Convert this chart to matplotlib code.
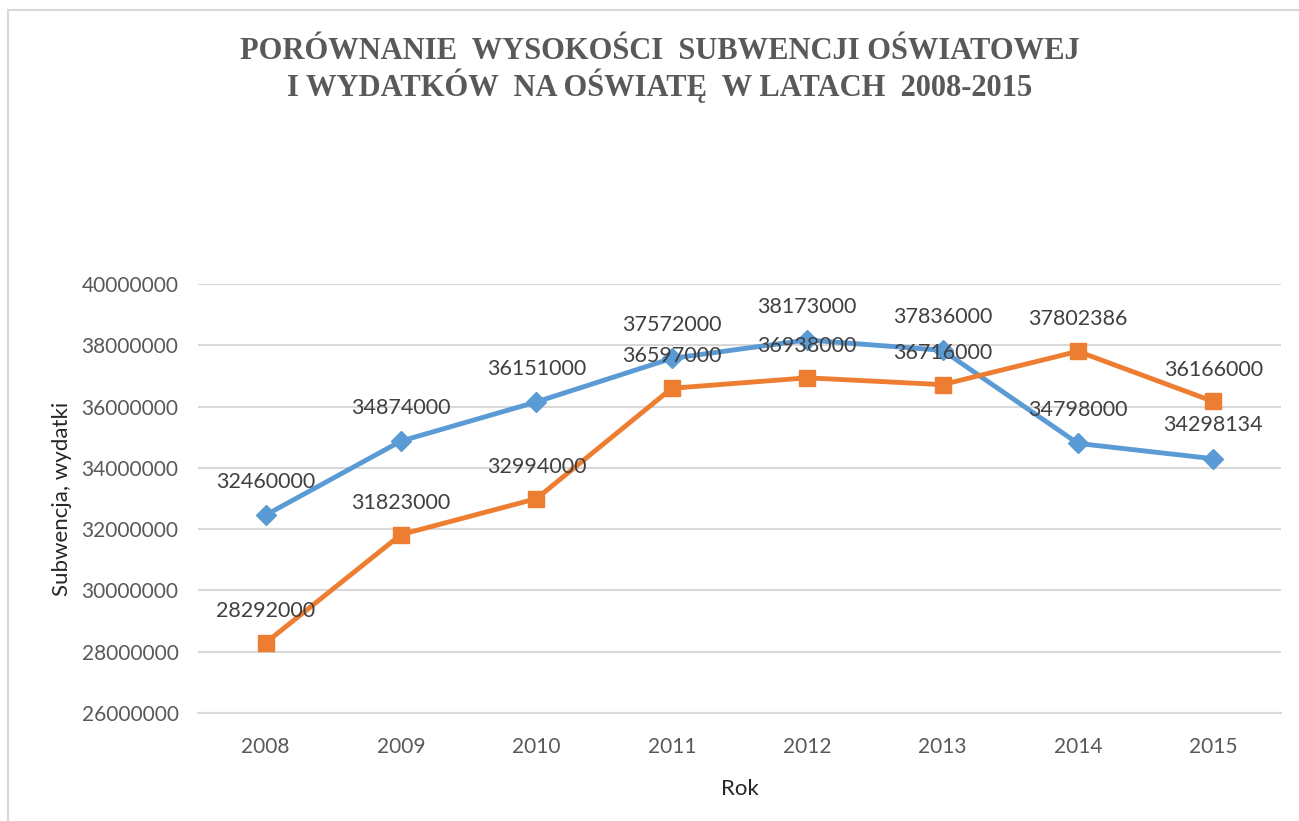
import matplotlib.pyplot as plt
from matplotlib.lines import Line2D

# data
years = ["2008", "2009", "2010", "2011", "2012", "2013", "2014", "2015"]
subwencja = [32460000, 34874000, 36151000, 37572000, 38173000, 37836000, 34798000, 34298134]
wydatki = [28292000, 31823000, 32994000, 36597000, 36938000, 36716000, 37802386, 36166000]
y_ticks = [26000000, 28000000, 30000000, 32000000, 34000000, 36000000, 38000000, 40000000]

blue = "#5B9BD5"
orange = "#ED7D31"
grey_text = "#595959"
grid_col = "#D9D9D9"

plt.rcParams['font.family'] = ['Lato', 'DejaVu Sans']

fig = plt.figure(figsize=(12.99, 8.21), dpi=100)
ax = fig.add_axes([0.1524, 0.1315, 0.8337, 0.5226])

x = list(range(len(years)))
ax.plot(x, subwencja, color=blue, lw=3.5, marker="D", markersize=10, zorder=3)
ax.plot(x, wydatki, color=orange, lw=3.5, marker="s", markersize=12, zorder=3)

# data labels above each point
for xi, v in zip(x, subwencja):
    ax.annotate(str(v), (xi, v), xytext=(0, 24), textcoords="offset points",
                ha="center", va="center", fontsize=15.5, color="#404040", zorder=4)
for xi, v in zip(x, wydatki):
    ax.annotate(str(v), (xi, v), xytext=(0, 23), textcoords="offset points",
                ha="center", va="center", fontsize=15.5, color="#404040", zorder=4)

ax.set_xlim(-0.5, len(years) - 0.5)
ax.set_ylim(26000000, 40000000)
ax.set_xticks(x)
ax.set_xticklabels(years)
ax.set_yticks(y_ticks)
ax.set_yticklabels([str(t) for t in y_ticks])
ax.tick_params(length=0, labelsize=15, labelcolor=grey_text)
ax.tick_params(axis="y", pad=14)
ax.tick_params(axis="x", pad=17)
ax.grid(axis="y", color=grid_col, lw=1.5)
ax.set_axisbelow(True)
for s in ["top", "right", "left"]:
    ax.spines[s].set_visible(False)
ax.spines["bottom"].set_color(grid_col)
ax.spines["bottom"].set_linewidth(1.5)

ax.set_ylabel("Subwencja, wydatki", fontsize=16, color="#262626", labelpad=7)
ax.set_xlabel("Rok", fontsize=16, color="#262626", labelpad=16)

fig.text(0.508, 0.915,
         "PORÓWNANIE  WYSOKOŚCI  SUBWENCJI OŚWIATOWEJ\nI WYDATKÓW  NA OŚWIATĘ  W LATACH  2008-2015",
         ha="center", va="center", fontsize=22, fontweight="bold", color=grey_text,
         family="Liberation Serif", linespacing=1.1)

# chart frame (only left and top edges are visible in the original)
fig.add_artist(Line2D([8 / 1299, 8 / 1299], [0, 1 - 10 / 821], color=grid_col, lw=1.5,
                      transform=fig.transFigure))
fig.add_artist(Line2D([8 / 1299, 1], [1 - 10 / 821, 1 - 10 / 821], color=grid_col, lw=1.5,
                      transform=fig.transFigure))

fig.savefig("out.png", dpi=100)
